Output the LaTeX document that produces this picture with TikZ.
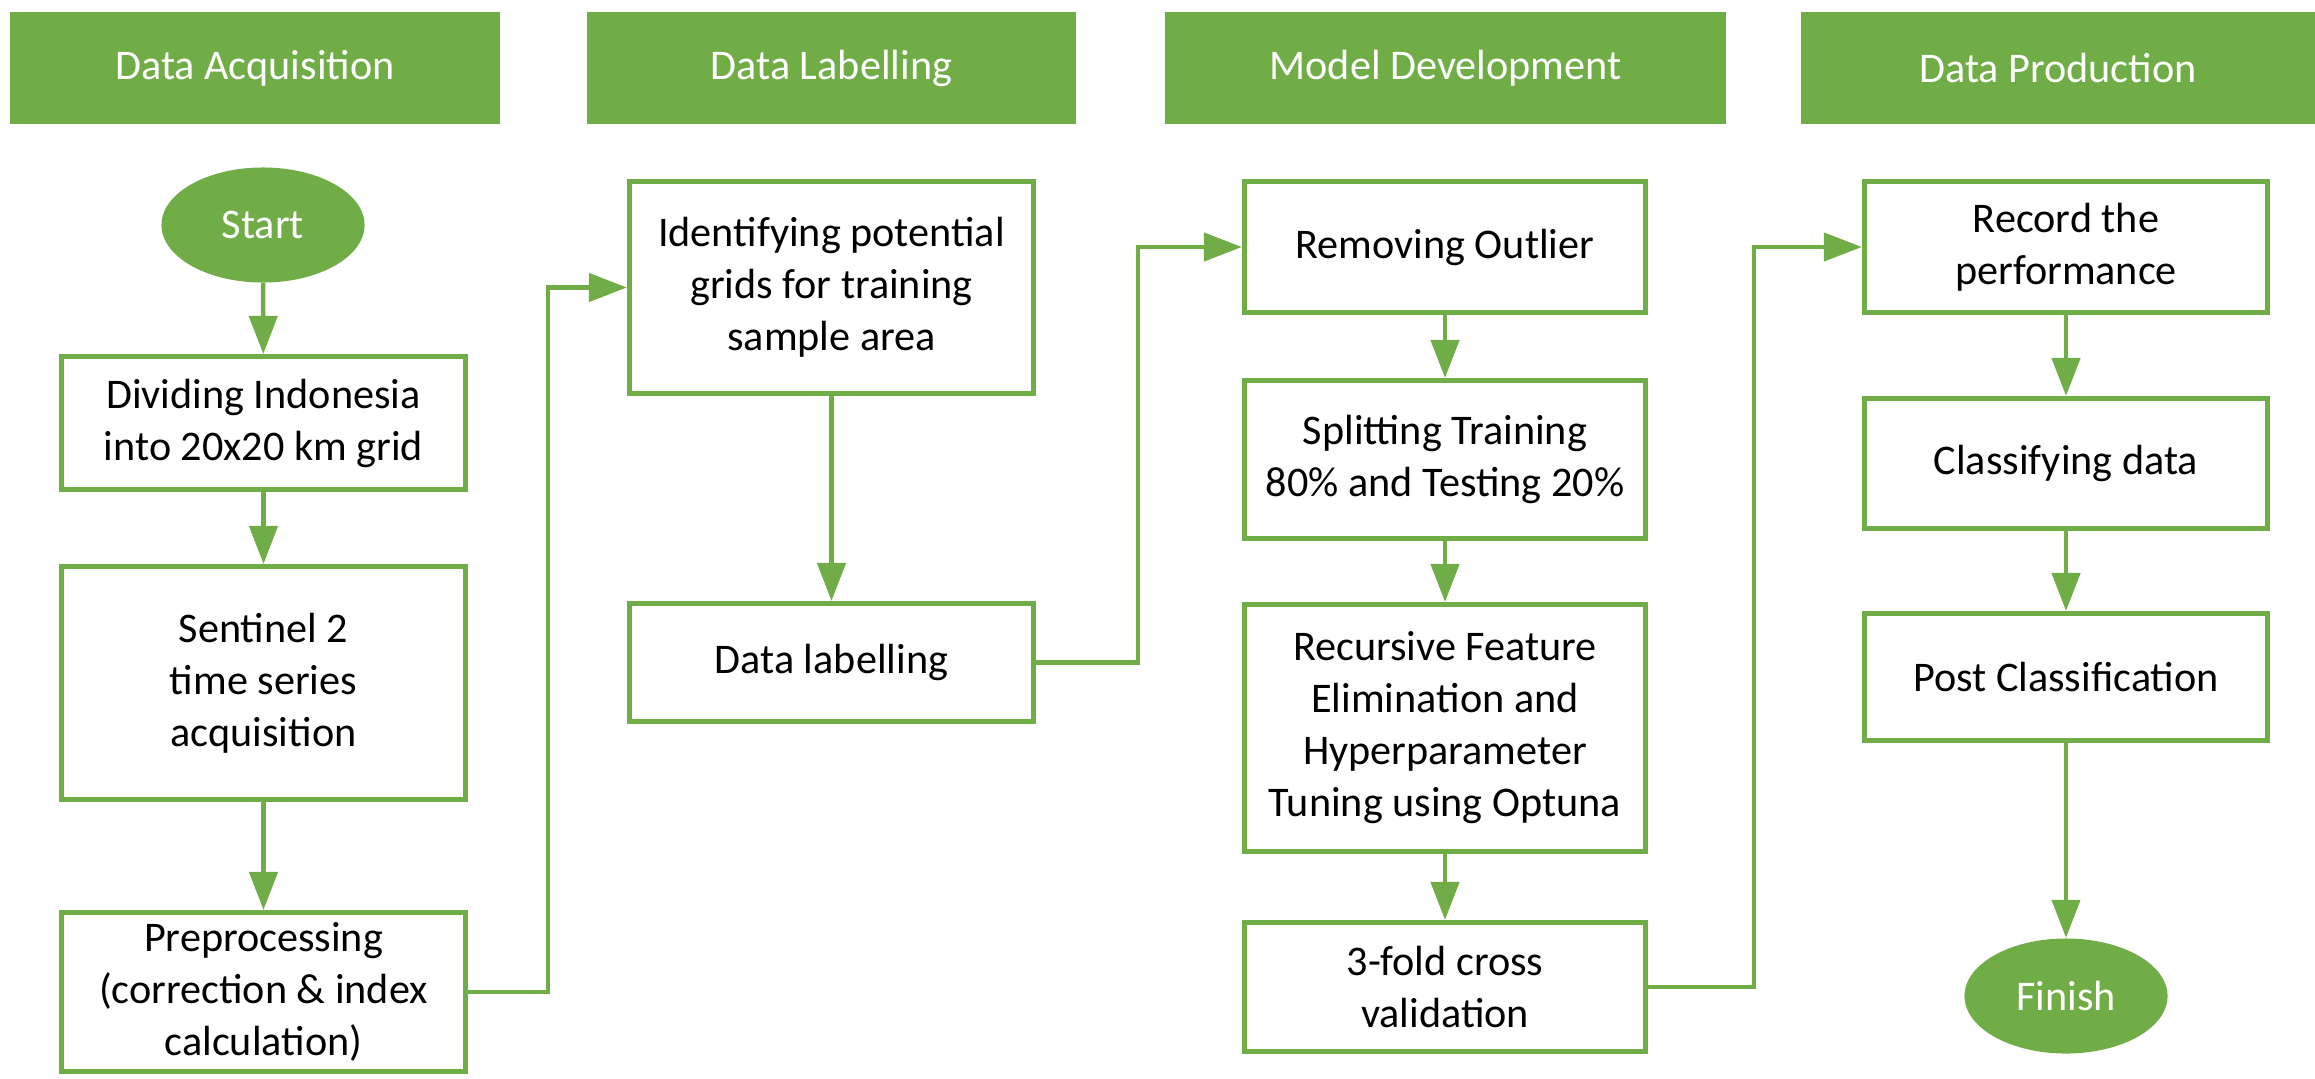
\documentclass[tikz,border=0pt]{standalone}
\usepackage{fontspec}
\setmainfont{Carlito}
\usetikzlibrary{arrows.meta,shapes.geometric}
\definecolor{og}{RGB}{112,173,71}
\newcommand\txtfont{\fontsize{12}{14.8}\selectfont}
\begin{document}
\begin{tikzpicture}[x=0.01cm,y=-0.01cm,
  hdr/.style={fill=og, text=white, minimum height=1.12cm, inner sep=0pt, font=\txtfont},
  box/.style={draw=og, line width=0.05cm, fill=white, align=center, minimum width=4.04cm, inner sep=0pt, font=\txtfont},
  term/.style={ellipse, fill=og, text=white, minimum width=2.03cm, minimum height=1.15cm, inner sep=0pt, font=\txtfont},
  conn/.style={draw=og, line width=0.045cm, -{Triangle[length=0.38cm,width=0.28cm]}}]
\useasboundingbox (0,0) rectangle (2315,1078);
% headers
\node[hdr, minimum width=4.90cm] (h1) at (255,68) {Data Acquisition};
\node[hdr, minimum width=4.89cm] (h2) at (831.5,68) {Data Labelling};
\node[hdr, minimum width=5.61cm] (h3) at (1445.5,68) {Model Development};
\node[hdr, minimum width=5.14cm] (h4) at (2058,68) {Data Production};
% column 1
\node[term] (start) at (263,225) {Start};
\node[box, minimum height=1.33cm] (divide) at (263.5,423) {Dividing Indonesia\\into 20x20 km grid};
\node[box, minimum height=2.33cm] (sentinel) at (263.5,683) {Sentinel 2\\time series\\acquisition};
\node[box, minimum height=1.59cm] (prep) at (263.5,992) {Preprocessing\\(correction \& index\\calculation)};
% column 2
\node[box, minimum height=2.12cm] (ident) at (831.5,287.5) {Identifying potential\\grids for training\\sample area};
\node[box, minimum height=1.18cm] (label) at (831.5,662.5) {Data labelling};
% column 3
\node[box, minimum width=4.01cm, minimum height=1.31cm] (remove) at (1445,247) {Removing Outlier};
\node[box, minimum width=4.01cm, minimum height=1.58cm] (split) at (1445,459.5) {Splitting Training\\80\% and Testing 20\%};
\node[box, minimum width=4.01cm, minimum height=2.47cm] (rfe) at (1445,728) {Recursive Feature\\Elimination and\\Hyperparameter\\Tuning using Optuna};
\node[box, minimum width=4.01cm, minimum height=1.29cm] (fold) at (1445,987) {3-fold cross\\validation};
% column 4
\node[box, minimum width=4.03cm, minimum height=1.31cm] (record) at (2066,247) {Record the\\performance};
\node[box, minimum width=4.03cm, minimum height=1.30cm] (classify) at (2066,463.5) {Classifying data};
\node[box, minimum width=4.03cm, minimum height=1.27cm] (post) at (2066,677) {Post Classification};
\node[term] (finish) at (2066,996) {Finish};
% connectors
\draw[conn] (start) -- (divide);
\draw[conn] (divide) -- (sentinel);
\draw[conn] (sentinel) -- (prep);
\draw[conn] (prep.east) -- ++(80,0) |- (ident.west);
\draw[conn] (ident) -- (label);
\draw[conn] (label.east) -- ++(102,0) |- (remove.west);
\draw[conn] (remove) -- (split);
\draw[conn] (split) -- (rfe);
\draw[conn] (rfe) -- (fold);
\draw[conn] (fold.east) -- ++(106,0) |- (record.west);
\draw[conn] (record) -- (classify);
\draw[conn] (classify) -- (post);
\draw[conn] (post) -- (finish);
\end{tikzpicture}
\end{document}
